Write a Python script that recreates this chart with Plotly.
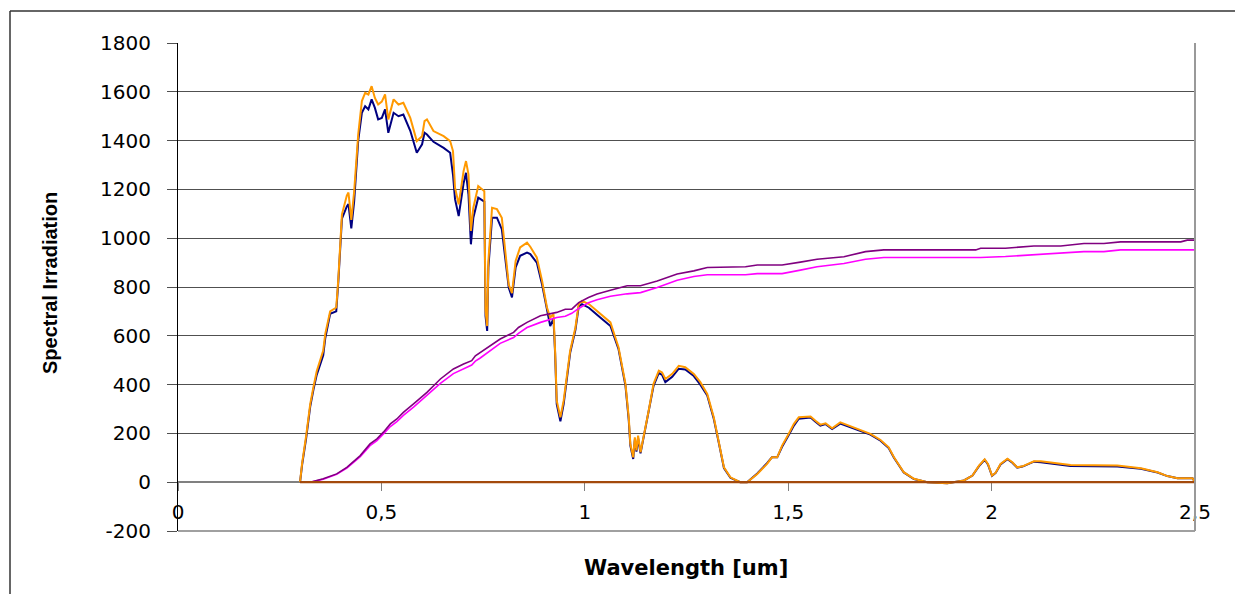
import plotly.graph_objects as go

# ---- spectral irradiance curves (wavelength in um) ----
wl_um = [0.300, 0.305, 0.315, 0.325, 0.333, 0.341, 0.357, 0.362, 0.374, 0.389,
         0.394, 0.403, 0.415, 0.419, 0.426, 0.433, 0.443, 0.452, 0.460, 0.468,
         0.476, 0.484, 0.492, 0.501, 0.509, 0.517, 0.530, 0.542, 0.554, 0.571,
         0.587, 0.600, 0.606, 0.612, 0.628, 0.653, 0.669, 0.676, 0.681, 0.690,
         0.702, 0.708, 0.714, 0.720, 0.726, 0.738, 0.753, 0.756, 0.760, 0.763,
         0.772, 0.784, 0.796, 0.807, 0.813, 0.821, 0.830, 0.841, 0.858, 0.866,
         0.882, 0.895, 0.907, 0.915, 0.923, 0.927, 0.931, 0.940, 0.948, 0.964,
         0.977, 0.985, 0.993, 1.010, 1.038, 1.063, 1.083, 1.100, 1.108, 1.112,
         1.119, 1.123, 1.127, 1.131, 1.137, 1.145, 1.157, 1.169, 1.182, 1.190,
         1.198, 1.215, 1.231, 1.247, 1.268, 1.284, 1.301, 1.317, 1.329, 1.342,
         1.358, 1.382, 1.399, 1.424, 1.448, 1.460, 1.473, 1.485, 1.501, 1.514,
         1.526, 1.555, 1.567, 1.579, 1.592, 1.608, 1.628, 1.678, 1.702, 1.727,
         1.747, 1.760, 1.784, 1.809, 1.842, 1.891, 1.932, 1.953, 1.969, 1.983,
         1.991, 2.001, 2.010, 2.022, 2.039, 2.051, 2.063, 2.076, 2.092, 2.104,
         2.121, 2.194, 2.309, 2.367, 2.408, 2.432, 2.457, 2.494, 2.500]

irr_orange = [0, 76, 190, 320, 390, 455, 540, 608, 700, 716,
              830, 1098, 1175, 1187, 1075, 1190, 1425, 1562, 1596, 1589,
              1623, 1575, 1548, 1560, 1589, 1487, 1569, 1548, 1555, 1493,
              1398, 1418, 1480, 1487, 1439, 1418, 1398, 1357, 1207, 1139,
              1275, 1316, 1262, 1030, 1125, 1214, 1193, 702, 640, 907,
              1125, 1119, 1084, 920, 810, 775, 907, 962, 982, 965,
              921, 825, 716, 675, 689, 539, 334, 266, 334, 539,
              634, 730, 743, 730, 692, 655, 552, 403, 266, 157,
              102, 184, 130, 191, 123, 198, 293, 403, 457, 450,
              423, 444, 477, 471, 444, 410, 362, 266, 171, 61,
              20, 0, 0, 34, 75, 102, 102, 150, 198, 239,
              266, 269, 252, 236, 241, 221, 245, 214, 198, 173,
              143, 102, 41, 14, 0, -4, 7, 27, 68, 94,
              75, 27, 39, 75, 96, 82, 61, 65, 78, 86,
              86, 71, 68, 57, 41, 25, 16, 16, 0]

irr_navy = [0, 70, 180, 310, 380, 440, 520, 590, 690, 700,
            820, 1080, 1130, 1140, 1040, 1150, 1400, 1514, 1541, 1528,
            1569, 1534, 1487, 1493, 1528, 1432, 1514, 1500, 1507, 1440,
            1350, 1385, 1432, 1425, 1395, 1370, 1350, 1260, 1160, 1091,
            1225, 1268, 1180, 975, 1084, 1166, 1150, 680, 620, 880,
            1084, 1084, 1037, 893, 798, 757, 880, 928, 941, 935,
            900, 810, 700, 640, 670, 530, 320, 250, 320, 530,
            625, 720, 730, 715, 675, 640, 545, 395, 255, 150,
            95, 175, 125, 180, 118, 190, 285, 395, 448, 440,
            410, 432, 465, 462, 435, 400, 355, 260, 165, 58,
            18, 0, 0, 36, 78, 102, 102, 145, 192, 232,
            260, 265, 248, 232, 238, 218, 240, 210, 195, 170,
            140, 100, 40, 13, 0, -4, 7, 27, 66, 92,
            73, 26, 38, 73, 94, 80, 60, 64, 77, 84,
            82, 66, 64, 55, 40, 25, 16, 16, 0]

# ---- cumulative curves ----
cum_wl = [0.300, 0.325, 0.357, 0.390, 0.415, 0.448, 0.472, 0.489, 0.505, 0.522,
          0.538, 0.554, 0.579, 0.612, 0.645, 0.677, 0.702, 0.722, 0.731, 0.743,
          0.792, 0.825, 0.837, 0.858, 0.891, 0.931, 0.952, 0.968, 0.985, 1.009,
          1.030, 1.063, 1.104, 1.137, 1.178, 1.227, 1.268, 1.301, 1.350, 1.395,
          1.424, 1.485, 1.530, 1.571, 1.637, 1.690, 1.735, 1.961, 1.973, 2.034,
          2.104, 2.170, 2.227, 2.276, 2.317, 2.465, 2.481, 2.500]

cum_purple = [0, 0, 14, 34, 61, 109, 157, 178, 205, 239,
              259, 286, 321, 368, 423, 464, 484, 498, 518, 532,
              587, 614, 634, 655, 682, 696, 709, 709, 736, 757,
              771, 787, 805, 805, 825, 853, 866, 880, 880, 883,
              890, 890, 902, 914, 924, 945, 952, 952, 959, 959,
              968, 968, 978, 978, 985, 985, 992, 992]

cum_magenta = [0, 0, 12, 32, 58, 105, 150, 170, 198, 228,
               248, 274, 308, 355, 405, 445, 465, 480, 496, 509,
               569, 593, 610, 634, 655, 675, 680, 692, 712, 736,
               748, 762, 772, 777, 798, 828, 843, 850, 850, 850,
               855, 855, 869, 883, 896, 914, 921, 921, 921, 925,
               933, 940, 945, 945, 952, 952, 952, 952]

# ---- flat reference series ----
zero_wl = [0.3, 2.5]
zero_vals = [0, 0]

# ---- axis ticks ----
x_ticks = [0, 0.5, 1, 1.5, 2, 2.5]
x_tick_labels = ["0", "0,5", "1", "1,5", "2", "2,5"]
y_ticks = [-200, 0, 200, 400, 600, 800, 1000, 1200, 1400, 1600, 1800]
y_tick_labels = [str(v) for v in y_ticks]

fig = go.Figure()
fig.add_trace(go.Scatter(x=wl_um, y=irr_navy, mode="lines", name="Irradiance B",
                         line=dict(color="#000080", width=2)))
fig.add_trace(go.Scatter(x=wl_um, y=irr_orange, mode="lines", name="Irradiance A",
                         line=dict(color="#FF9900", width=2)))
fig.add_trace(go.Scatter(x=cum_wl, y=cum_magenta, mode="lines", name="Cumulative B",
                         line=dict(color="#FF00FF", width=1.6)))
fig.add_trace(go.Scatter(x=cum_wl, y=cum_purple, mode="lines", name="Cumulative A",
                         line=dict(color="#800080", width=1.6)))
fig.add_trace(go.Scatter(x=zero_wl, y=zero_vals, mode="lines", name="Zero",
                         line=dict(color="#A34A0C", width=2.2)))

L, R, T, B = 178, 40, 43, 63
W, H = 1235, 594
pw, ph = W - L - R, H - T - B


def px(xp):
    return (xp - L) / pw


def py(yp):
    return (H - B - yp) / ph


tick_font = dict(family="DejaVu Sans, Arial", size=20, color="black")

fig.update_layout(
    width=W, height=H,
    margin=dict(l=L, r=R, t=T, b=B, autoexpand=False),
    paper_bgcolor="white", plot_bgcolor="white",
    showlegend=False,
    xaxis=dict(range=[0, 2.5], tickvals=x_ticks, ticktext=x_tick_labels,
               showgrid=False, zeroline=False,
               anchor="free", position=0.1, layer="below traces",
               showline=True, linecolor="#808080", linewidth=1.5,
               ticks="outside", ticklen=8, tickcolor="#808080", tickwidth=1,
               ticklabelstandoff=4, tickfont=tick_font),
    yaxis=dict(range=[-200, 1800], tickvals=y_ticks, ticktext=y_tick_labels,
               showgrid=True, gridcolor="#505050", gridwidth=1,
               zeroline=False, layer="below traces",
               showline=True, linecolor="black", linewidth=1,
               ticks="outside", ticklen=10, tickcolor="#505050",
               ticklabelstandoff=12, tickfont=tick_font),
    shapes=[
        # lower and right edges of the plotting area
        dict(type="line", xref="paper", yref="paper", x0=0, x1=1, y0=0, y1=0,
             line=dict(color="#808080", width=1.5)),
        dict(type="line", xref="paper", yref="paper", x0=1, x1=1, y0=0, y1=1,
             line=dict(color="#999999", width=2)),
        # outer chart frame
        dict(type="line", xref="paper", yref="paper", x0=px(10), x1=px(10),
             y0=py(11), y1=py(600), line=dict(color="#333333", width=1.5)),
        dict(type="line", xref="paper", yref="paper", x0=px(10), x1=px(1240),
             y0=py(11), y1=py(11), line=dict(color="#333333", width=1.5)),
    ],
    annotations=[
        dict(text="<b>Wavelength [um]</b>", xref="paper", yref="paper",
             x=px(686), y=py(568), showarrow=False, xanchor="center", yanchor="middle",
             font=dict(family="DejaVu Sans, Arial", size=21, color="black")),
        dict(text="<b>Spectral Irradiation</b>", xref="paper", yref="paper",
             x=px(50), y=py(283), showarrow=False, textangle=-90,
             xanchor="center", yanchor="middle",
             font=dict(family="Liberation Sans, Arial", size=20, color="black")),
    ],
)

fig.write_html("out.html")
